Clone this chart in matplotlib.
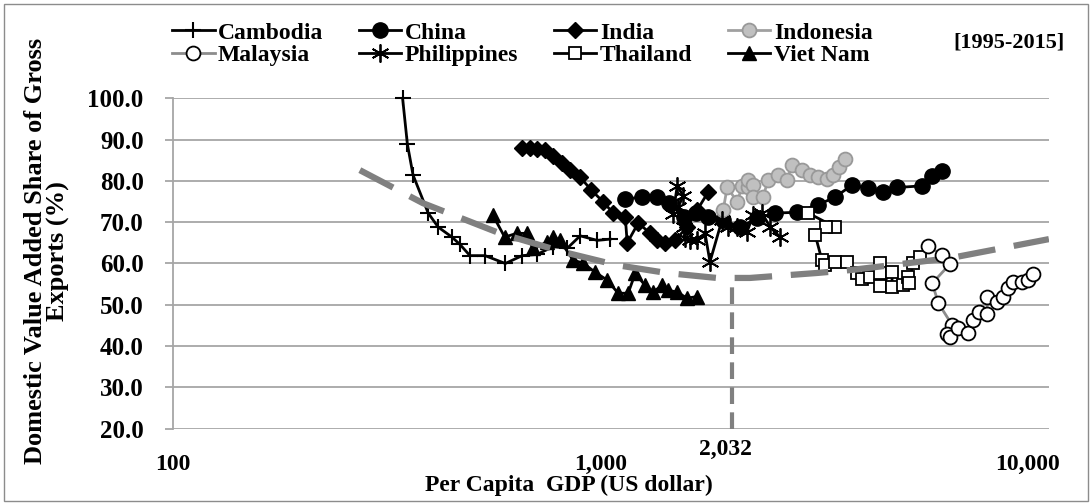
import matplotlib.pyplot as plt
import numpy as np
from matplotlib.patches import Rectangle
from matplotlib.transforms import blended_transform_factory

plt.rcParams['font.family'] = ['Liberation Serif', 'DejaVu Serif']
plt.rcParams['font.weight'] = 'bold'

# Data (per capita GDP in US$, DVA share of gross exports in %)
cambodia_x = [345, 354, 365, 396, 418, 450, 470, 496, 538, 600, 657, 712, 777, 838, 898, 984, 1055]
cambodia_y = [100.0, 88.9, 81.4, 72.2, 68.8, 66.4, 64.6, 61.9, 61.9, 60.0, 61.9, 62.2, 64.1, 63.7, 66.7, 65.6, 65.9]

china_x = [1146, 1256, 1362, 1446, 1567, 1672, 1792, 1942, 2128, 2332, 2567, 2890, 3238, 3548,
           3889, 4240, 4596, 4955, 5668, 5985, 6312]
china_y = [75.6, 76.1, 76.1, 74.6, 71.3, 72.2, 71.3, 70.5, 68.8, 71.0, 72.2, 72.4, 74.2, 76.1,
           79.0, 78.2, 77.2, 78.4, 78.8, 81.2, 82.4]

india_x = [657, 685, 712, 743, 776, 814, 851, 898, 953, 1017, 1073, 1145, 1157, 1228, 1310,
           1359, 1419, 1497, 1597, 1686, 1790]
india_y = [88.0, 88.0, 87.7, 87.5, 86.0, 84.3, 82.6, 80.9, 77.8, 74.9, 72.2, 71.3, 65.0, 69.8, 67.3,
           65.6, 64.9, 65.6, 68.8, 72.9, 77.3]

indonesia_x = [1941, 1983, 2093, 2149, 2219, 2219, 2280, 2280, 2405, 2472, 2607, 2737, 2810, 2966,
               3097, 3234, 3395, 3505, 3620, 3738]
indonesia_y = [73.0, 78.5, 74.9, 78.7, 78.4, 80.2, 79.0, 76.1, 76.1, 80.2, 81.4, 80.2, 83.8, 82.6,
               81.4, 80.9, 80.4, 81.4, 83.4, 85.2]

malaysia_x = [5850, 6307, 6590, 5985, 6186, 6664, 6487, 6590, 6883, 7266, 7468, 7713, 8043, 8043,
              8488, 8766, 9000, 9250, 9711, 10028, 10296]
malaysia_y = [64.2, 62.1, 59.9, 55.2, 50.4, 45.1, 42.9, 42.1, 44.5, 43.2, 46.2, 48.3, 47.8, 52.0,
              50.7, 52.0, 54.0, 55.4, 55.6, 56.0, 57.5]

philippines_x = [1482, 1515, 1564, 1523, 1572, 1580, 1623, 1686, 1760, 1807, 1928, 1991, 2090,
                 2206, 2280, 2393, 2499, 2637]
philippines_y = [72.1, 78.8, 76.4, 73.6, 68.9, 66.1, 65.6, 65.6, 67.3, 60.4, 70.5, 68.8, 68.8,
                 67.6, 71.7, 72.2, 68.8, 66.4]

thailand_x = [3070, 3548, 3382, 3186, 3304, 3361, 3548, 3786, 3993, 4100, 4282, 4519, 4519, 4519,
              4820, 4820, 5115, 5256, 5284, 5401, 5605]
thailand_y = [72.2, 68.8, 68.8, 66.9, 60.8, 59.6, 60.4, 60.4, 57.6, 56.2, 56.7, 60.0, 57.7, 54.5,
              57.9, 54.3, 54.8, 56.7, 55.3, 60.1, 61.6]

vietnam_x = [561, 598, 638, 673, 696, 750, 776, 805, 865, 912, 973, 1038, 1102, 1163, 1208, 1274,
             1330, 1396, 1442, 1514, 1597, 1686]
vietnam_y = [71.7, 66.4, 67.3, 67.3, 63.7, 65.1, 66.4, 65.6, 60.8, 60.1, 57.9, 56.0, 52.8, 52.8,
             57.6, 54.7, 53.1, 54.7, 53.5, 53.1, 51.6, 52.0]

# fitted curve (gray dashed)
fit_x = [274, 385, 583, 819, 1094, 1432, 1875, 2242, 3214, 3844, 6590, 11220]
fit_y = [82.6, 74.6, 67.3, 62.8, 59.6, 57.7, 56.5, 56.5, 57.7, 58.4, 61.3, 65.9]
turning_x = 2032
turning_y = 56.3

x_ticks = [100, 1000, 10000]
x_ticklabels = ['100', '1,000', '10,000']
y_ticks = np.arange(20, 101, 10)

fig = plt.figure(figsize=(10.92, 5.04), dpi=100)
ax = fig.add_axes([0.1582, 0.1494, 0.8024, 0.6556])

ax.set_xscale('log')
ax.set_xlim(100, 11226)
ax.set_ylim(20, 100)

lw = 2.0
ax.plot(cambodia_x, cambodia_y, color='black', lw=lw, marker='+', ms=12, mew=1.5, zorder=2,
        label='Cambodia', clip_on=False)
ax.plot(china_x, china_y, color='black', lw=lw, marker='o', ms=11, zorder=2, label='China')
ax.plot(india_x, india_y, color='black', lw=lw, marker='D', ms=8, zorder=2, label='India')
ax.plot(indonesia_x, indonesia_y, color='#a0a0a0', lw=lw, marker='o', ms=10, mfc='#c0c0c0',
        mec='#999999', mew=1.3, zorder=2, label='Indonesia')
ax.plot(philippines_x, philippines_y, color='black', lw=lw, marker=(6, 2, 0), ms=13, mew=1.3,
        zorder=2, label='Philippines')
ax.plot(thailand_x, thailand_y, color='black', lw=lw, marker='s', ms=9, mfc='white', mec='black',
        mew=1.3, zorder=2, label='Thailand')
ax.plot(vietnam_x, vietnam_y, color='black', lw=lw, marker='^', ms=10, zorder=2, label='Viet Nam')

# dashed fit curve and turning point
ax.plot(fit_x, fit_y, color='#808080', lw=4.5, dashes=(6, 3), zorder=3)
ax.plot([turning_x, turning_x], [20, turning_y], color='#808080', lw=3, dashes=(4, 2), zorder=3)

ax.plot(malaysia_x, malaysia_y, color='#8c8c8c', lw=lw, marker='o', ms=10, mfc='white',
        mec='black', mew=1.3, zorder=4, label='Malaysia')

ax.grid(axis='y', color='#a6a6a6', lw=1.3, zorder=0)
ax.set_axisbelow(True)
for s in ['top', 'right', 'bottom']:
    ax.spines[s].set_visible(False)
ax.spines['left'].set_color('#a6a6a6')
ax.spines['left'].set_linewidth(1.3)

ax.set_yticks(y_ticks)
ax.set_yticklabels([f'{v:.1f}' for v in y_ticks], fontsize=18)
ax.set_xticks(x_ticks)
ax.set_xticklabels(x_ticklabels, fontsize=17)
ax.minorticks_off()
ax.tick_params(axis='y', length=6, width=1.3, color='#a6a6a6', pad=15)
ax.tick_params(axis='x', length=0, pad=18)

tr = blended_transform_factory(ax.transData, fig.transFigure)
ax.text(turning_x * 0.965, 1 - 449 / 504, '2,032', transform=tr, ha='center', va='center',
        fontsize=17)

fig.text(569 / 1092, 1 - 485 / 504, 'Per Capita  GDP (US dollar)', ha='center', va='center',
         fontsize=17)
fig.text(47 / 1092, 1 - 251 / 504, 'Domestic Value Added Share of Gross\nExports (%)',
         ha='center', va='center', rotation=90, fontsize=19, multialignment='center',
         linespacing=1.0)
fig.text(1009 / 1092, 1 - 43 / 504, '[1995-2015]', ha='center', va='center', fontsize=16)

handles, labels = ax.get_legend_handles_labels()
order = ['Cambodia', 'Malaysia', 'China', 'Philippines', 'India', 'Thailand', 'Indonesia', 'Viet Nam']
hmap = dict(zip(labels, handles))
fig.legend([hmap[k] for k in order], order, loc='upper left', bbox_to_anchor=(172 / 1092, 1 - 22 / 504),
           ncol=4, frameon=False, fontsize=17, handlelength=1.8, handletextpad=0.15,
           columnspacing=1.5, borderaxespad=0, borderpad=0, labelspacing=0.05)

fig.patches.append(Rectangle((4 / 1092, 3 / 504), 1084 / 1092, 497 / 504, transform=fig.transFigure,
                             fill=False, ec='#8c8c8c', lw=1))

fig.savefig('out.png', dpi=100)
